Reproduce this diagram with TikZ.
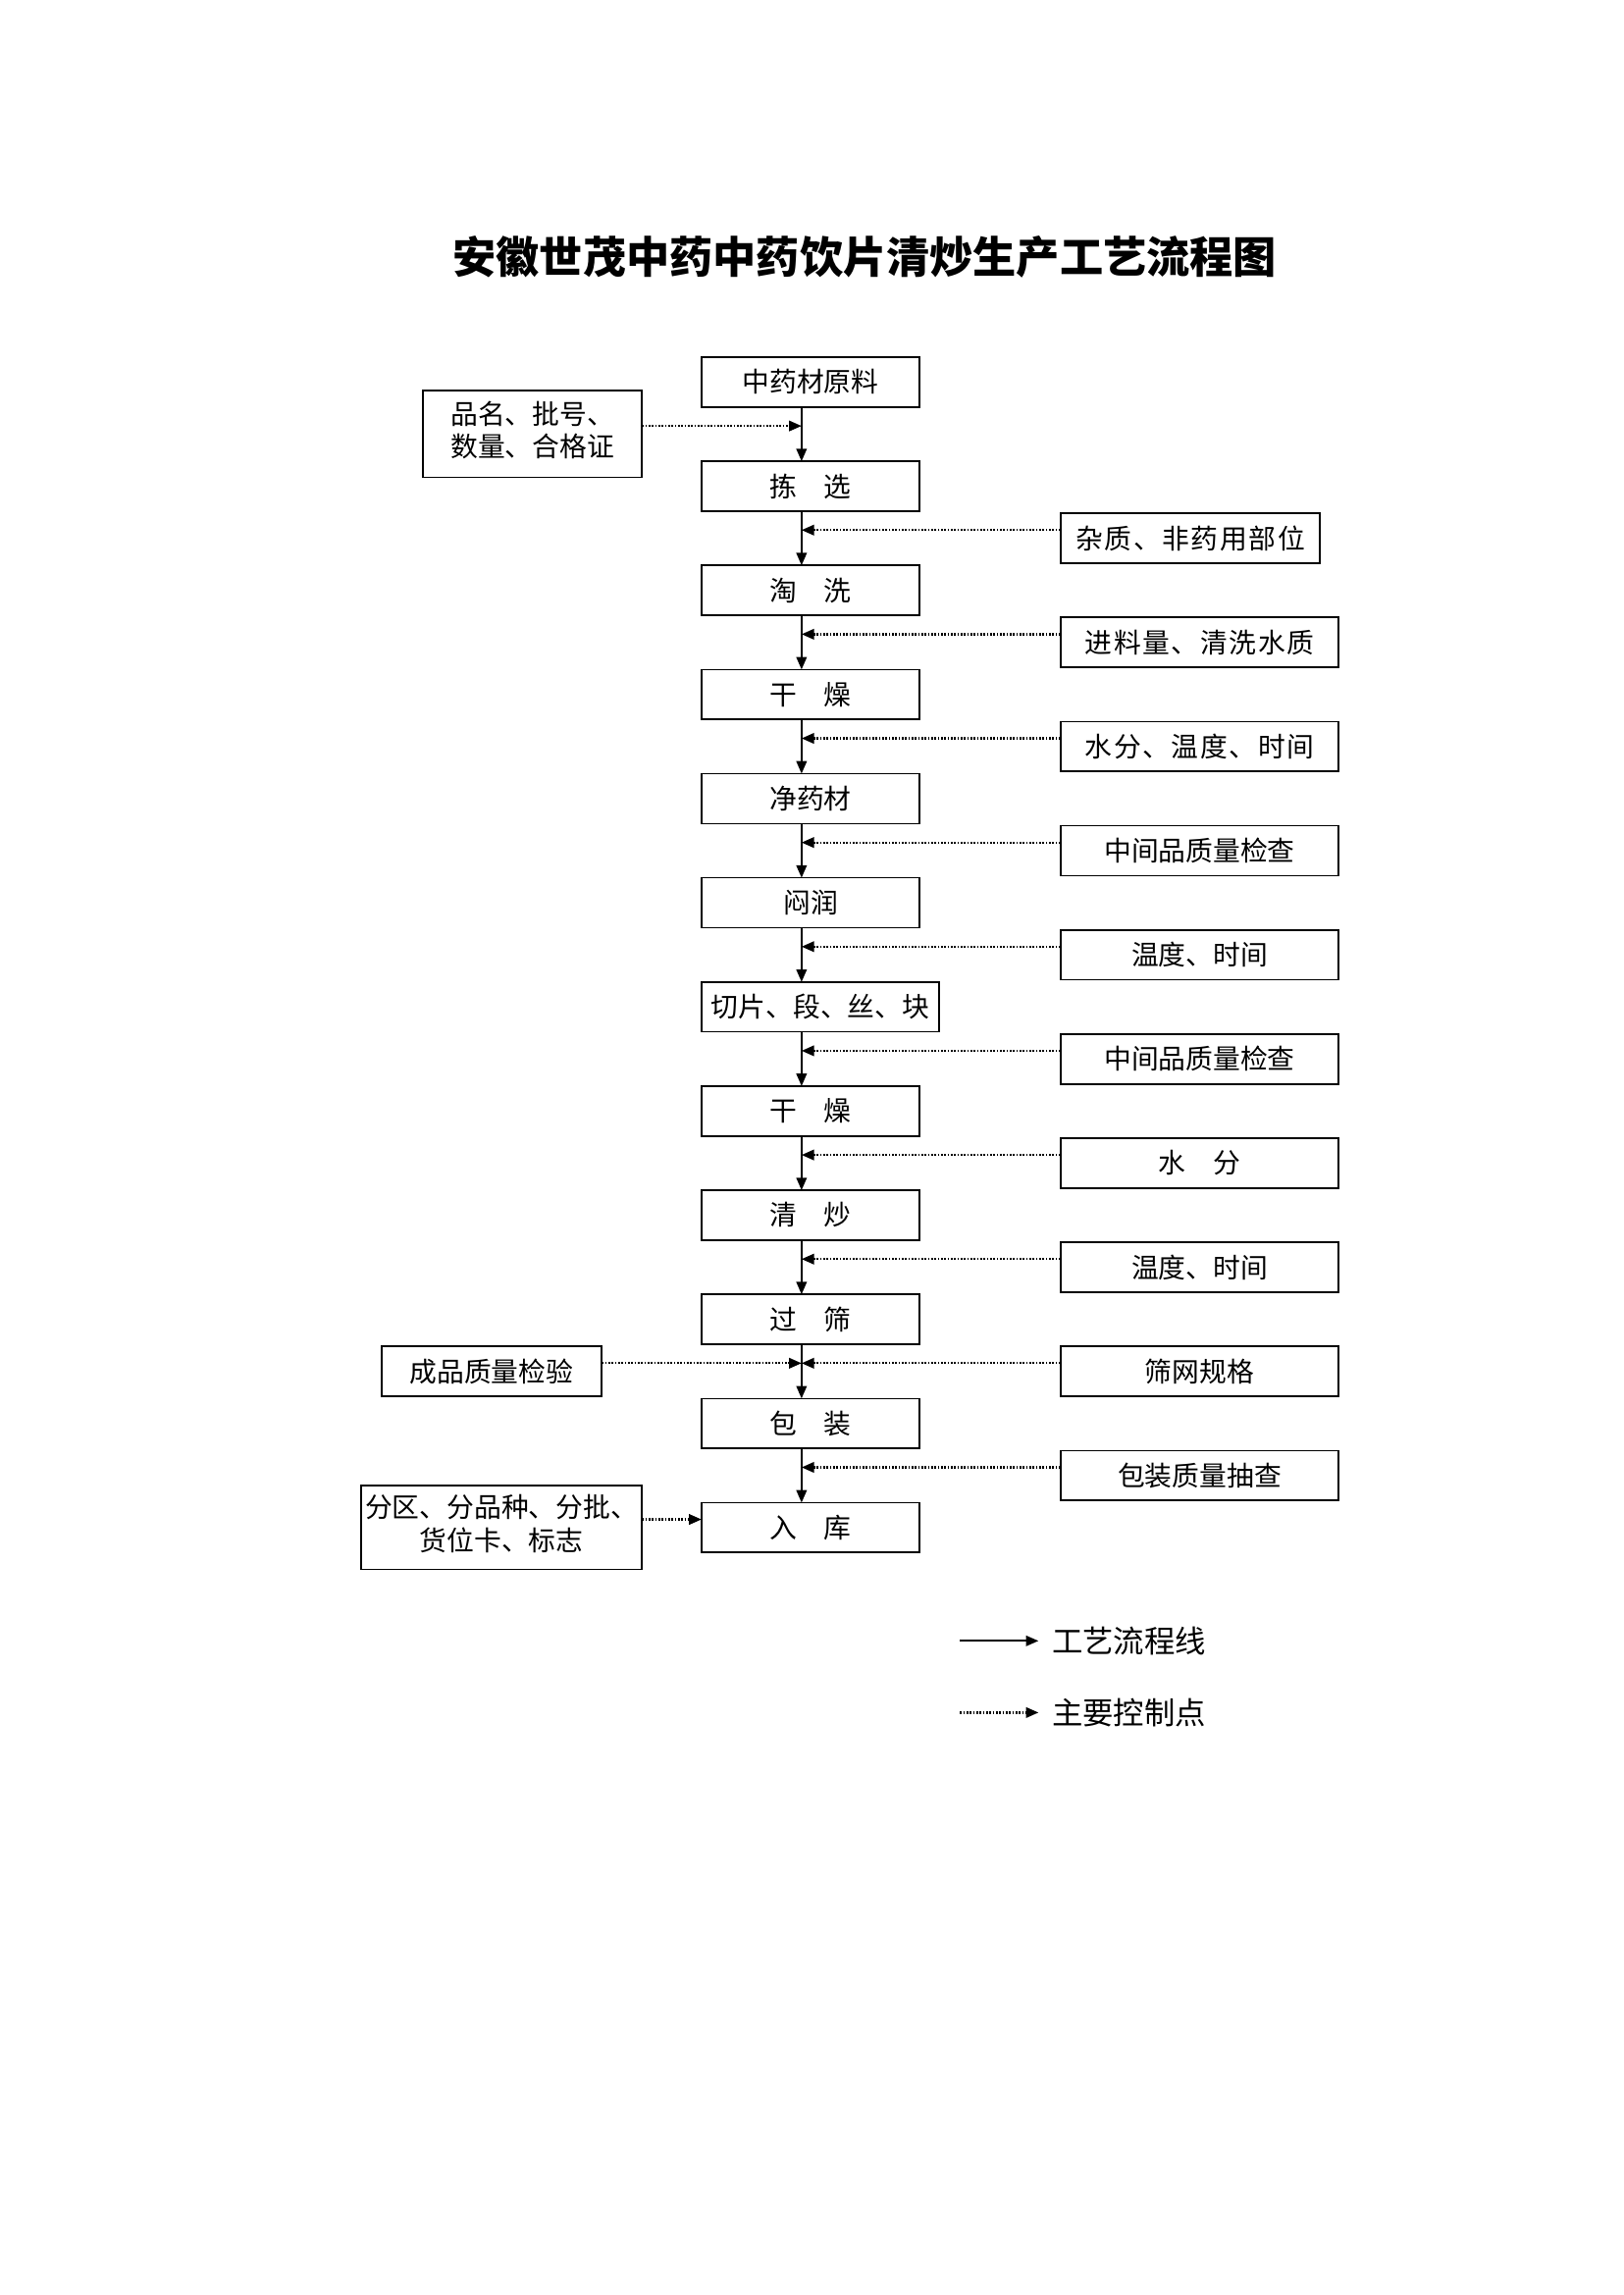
\documentclass[tikz,border=0pt]{standalone}
\usepackage{fontspec}
\setmainfont{Noto Sans CJK SC}
\usetikzlibrary{matrix,positioning,arrows.meta}
\newcommand\twoline[2]{\begin{tabular}{@{}c@{}}#1\\#2\end{tabular}}

\begin{document}
\begin{tikzpicture}[
	box/.style={draw, line width=0.6pt, minimum height=18.3pt, inner sep=1pt, outer sep=0pt, font=\fontsize{10}{12}\selectfont},
	spread/.style={font=\fontsize{10}{12}\selectfont\addfontfeature{LetterSpace=5.8}},
	flowline/.style={line width=0.7pt, -{Triangle[length=4.6pt,width=3.8pt]}},
	ctlline/.style={line width=0.8pt, dash pattern=on 0.6pt off 0.6pt, -{Triangle[length=4.6pt,width=3.8pt]}},
	legend/.style={inner sep=0pt, outer sep=5pt, font=\fontsize{11.3}{13}\selectfont},
	heading/.style={font=\fontsize{15.9}{19}\selectfont\bfseries}]
	\path[use as bounding box] (0,0) rectangle (595.3pt,-841.85pt);
	\node[heading] (title) at (317.2pt,-94.3pt) {安徽世茂中药中药饮片清炒生产工艺流程图};
	\matrix (flow) [matrix of nodes, anchor=north west, inner sep=0pt, outer sep=0pt,
		row sep=0.2pt, column sep=21.2pt, nodes={box},
		column 1/.style={anchor=east, minimum width=80.4pt},
		column 2/.style={anchor=west, minimum width=80pt},
		column 3/.style={anchor=west, minimum width=102pt}] at (132.1pt,-130.7pt)
	{%
		& 中药材原料 &[22.7pt] \\[-6.75pt]
		|[minimum height=31.8pt]| \twoline{品名、批号、}{数量、合格证} & & \\[-6.75pt]
		& 拣\quad 选 & \\
		& & |[spread, minimum width=95.2pt]| 杂质、非药用部位 \\
		& 淘\quad 洗 & \\
		& & |[spread]| 进料量、清洗水质 \\
		& 干\quad 燥 & \\
		& & |[spread]| 水分、温度、时间 \\
		& 净药材 & \\
		& & 中间品质量检查 \\
		& 闷润 & \\
		& & 温度、时间 \\
		& |[minimum width=87.2pt]| 切片、段、丝、块 & \\
		& & 中间品质量检查 \\
		& 干\quad 燥 & \\
		& & 水\quad 分 \\
		& 清\quad 炒 & \\
		& & 温度、时间 \\
		& 过\quad 筛 & \\
		|[xshift=-14.8pt, minimum width=80.8pt]| 成品质量检验 & & 筛网规格 \\
		& 包\quad 装 & \\
		& & 包装质量抽查 \\[-6.2pt]
		|[minimum width=103.1pt, minimum height=30.7pt]| \twoline{分区、分品种、分批、}{货位卡、标志} & 入\quad 库 & \\
	};
	\coordinate (spine) at ([xshift=36.7pt]flow-1-2.west);
	% process line
	\draw[flowline] (spine |- flow-1-2.south) -- (spine |- flow-3-2.north);
	\draw[flowline] (spine |- flow-3-2.south) -- (spine |- flow-5-2.north);
	\draw[flowline] (spine |- flow-5-2.south) -- (spine |- flow-7-2.north);
	\draw[flowline] (spine |- flow-7-2.south) -- (spine |- flow-9-2.north);
	\draw[flowline] (spine |- flow-9-2.south) -- (spine |- flow-11-2.north);
	\draw[flowline] (spine |- flow-11-2.south) -- (spine |- flow-13-2.north);
	\draw[flowline] (spine |- flow-13-2.south) -- (spine |- flow-15-2.north);
	\draw[flowline] (spine |- flow-15-2.south) -- (spine |- flow-17-2.north);
	\draw[flowline] (spine |- flow-17-2.south) -- (spine |- flow-19-2.north);
	\draw[flowline] (spine |- flow-19-2.south) -- (spine |- flow-21-2.north);
	\draw[flowline] (spine |- flow-21-2.south) -- (spine |- flow-23-2.north);
	% control points
	\draw[ctlline] ([yshift=3pt]flow-2-1.east) -- ([yshift=3pt]spine |- flow-2-1.east);
	\draw[ctlline] ([yshift=3pt]flow-4-3.west) -- ([yshift=3pt]spine |- flow-4-3.west);
	\draw[ctlline] ([yshift=3pt]flow-6-3.west) -- ([yshift=3pt]spine |- flow-6-3.west);
	\draw[ctlline] ([yshift=3pt]flow-8-3.west) -- ([yshift=3pt]spine |- flow-8-3.west);
	\draw[ctlline] ([yshift=3pt]flow-10-3.west) -- ([yshift=3pt]spine |- flow-10-3.west);
	\draw[ctlline] ([yshift=3pt]flow-12-3.west) -- ([yshift=3pt]spine |- flow-12-3.west);
	\draw[ctlline] ([yshift=3pt]flow-14-3.west) -- ([yshift=3pt]spine |- flow-14-3.west);
	\draw[ctlline] ([yshift=3pt]flow-16-3.west) -- ([yshift=3pt]spine |- flow-16-3.west);
	\draw[ctlline] ([yshift=3pt]flow-18-3.west) -- ([yshift=3pt]spine |- flow-18-3.west);
	\draw[ctlline] ([yshift=3pt]flow-20-1.east) -- ([yshift=3pt]spine |- flow-20-1.east);
	\draw[ctlline] ([yshift=3pt]flow-20-3.west) -- ([yshift=3pt]spine |- flow-20-3.west);
	\draw[ctlline] ([yshift=3pt]flow-22-3.west) -- ([yshift=3pt]spine |- flow-22-3.west);
	\draw[ctlline] ([yshift=3pt]flow-23-1.east) -- ([yshift=3pt]flow-23-2.west);
	% legend
	\node[legend, anchor=west] (lgflow) at (380.9pt,-601.9pt) {工艺流程线};
	\node[legend, below=26.3pt of lgflow.west, anchor=west] (lgctl) {主要控制点};
	\coordinate (lgflowtail) at (352.1pt,-601.9pt);
	\coordinate (lgctltail) at (lgflowtail |- lgctl.west);
	\draw[flowline] (lgflowtail) -- (lgflow.west);
	\draw[ctlline] (lgctltail) -- (lgctl.west);
\end{tikzpicture}
\end{document}
